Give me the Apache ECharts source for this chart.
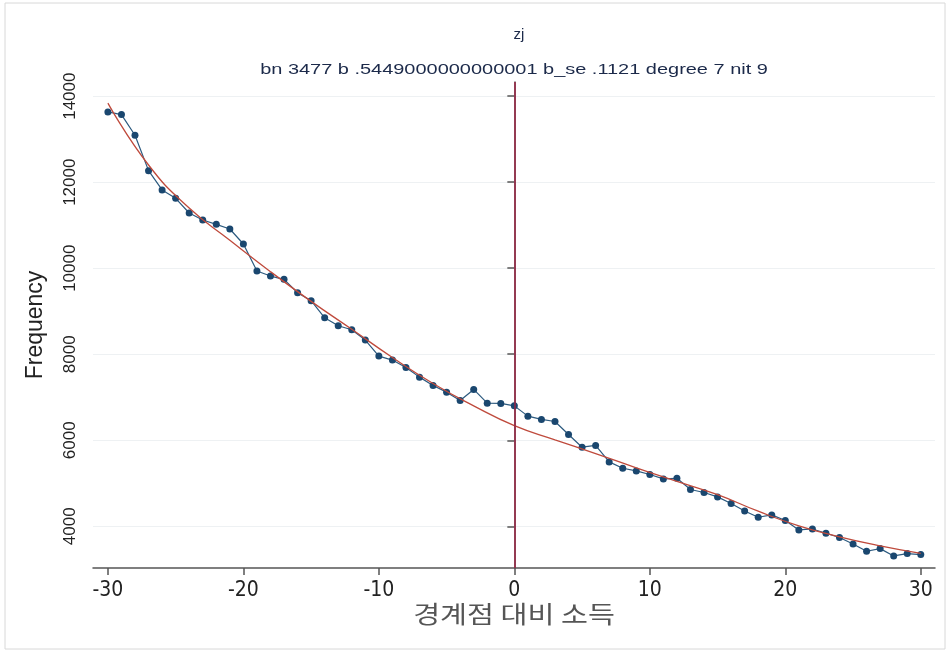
<!DOCTYPE html>
<html>
<head>
<meta charset="utf-8">
<script src="https://cdn.jsdelivr.net/npm/echarts@6/dist/echarts.min.js"></script>
<style>
  html, body { margin: 0; padding: 0; background: #fff; }
  #chart { width: 948px; height: 654px; }
</style>
</head>
<body>
<div id="chart"></div>
<script>
// income relative to the threshold (bins)
var bins = [-30, -29, -28, -27, -26, -25, -24, -23, -22, -21, -20, -19, -18, -17, -16, -15,
    -14, -13, -12, -11, -10, -9, -8, -7, -6, -5, -4, -3, -2, -1, 0, 1, 2, 3, 4, 5, 6, 7, 8,
    9, 10, 11, 12, 13, 14, 15, 16, 17, 18, 19, 20, 21, 22, 23, 24, 25, 26, 27, 28, 29, 30];

// observed frequency per bin
var freq = [13635, 13572, 13092, 12269, 11820, 11626, 11284, 11121, 11021, 10912, 10563,
    9935, 9818, 9741, 9430, 9244, 8848, 8662, 8569, 8329, 7957, 7864, 7694, 7468, 7275,
    7119, 6926, 7182, 6863, 6856, 6800, 6561, 6484, 6437, 6135, 5839, 5879, 5497, 5350,
    5288, 5204, 5102, 5116, 4855, 4785, 4683, 4529, 4357, 4210, 4264, 4133, 3915, 3938,
    3838, 3738, 3589, 3419, 3481, 3310, 3365, 3342];

// counterfactual polynomial fit, read at some bins
var fitBins = [-30, -27, -24, -21, -18, -15, -12, -9, -6, -3, 0, 3, 6, 9, 12, 15, 18, 21, 24, 27, 30];
var fitFreq = [13840, 12400, 11400, 10650, 9920, 9230, 8580, 7925, 7320, 6800, 6340, 6010,
    5690, 5360, 5045, 4735, 4350, 4010, 3755, 3545, 3370];

var xTicks = [-30, -20, -10, 0, 10, 20, 30];
var yTicks = [4000, 6000, 8000, 10000, 12000, 14000];

var chart = echarts.init(document.getElementById('chart'));

var obsData = [];
for (var i = 0; i < bins.length; i++) {
    obsData.push([bins[i], freq[i]]);
}
var fitData = [];
for (var j = 0; j < fitBins.length; j++) {
    fitData.push([fitBins[j], fitFreq[j]]);
}

var option = {
    backgroundColor: '#fff',
    animation: false,
    title: {
        text: 'zj',
        left: 514,
        top: 22,
        textAlign: 'center',
        textStyle: {
            fontFamily: 'Liberation Sans',
            fontSize: 15,
            fontWeight: 'normal',
            color: '#1c2a4a'
        }
    },
    graphic: [
        {
            type: 'rect',
            shape: { x: 5, y: 3, width: 940, height: 646 },
            style: { fill: null, stroke: '#d8d8d8', lineWidth: 1 },
            silent: true
        },
        {
            type: 'text',
            x: 514,
            y: 70,
            scaleX: 1.33,
            style: {
                text: 'bn 3477 b .5449000000000001 b_se .1121 degree 7 nit 9',
                fontFamily: 'Liberation Sans',
                fontSize: 15,
                fill: '#1c2a4a',
                align: 'center',
                verticalAlign: 'middle'
            }
        },
        {
            type: 'text',
            x: 514,
            y: 614,
            scaleX: 1.22,
            style: {
                text: '경계점 대비 소득',
                fontFamily: 'Noto Sans CJK KR',
                fontSize: 24,
                fill: '#555',
                align: 'center',
                verticalAlign: 'middle'
            }
        }
    ],
    grid: {
        left: 93,
        right: 13,
        top: 82,
        bottom: 86
    },
    xAxis: {
        type: 'value',
        min: -31.1,
        max: 31.05,
        axisLine: { show: true, lineStyle: { color: '#555', width: 1.5 } },
        axisTick: {
            show: true,
            customValues: xTicks,
            length: 7,
            lineStyle: { color: '#555', width: 1.5 }
        },
        axisLabel: {
            customValues: xTicks,
            margin: 12,
            fontFamily: 'DejaVu Sans Condensed, Liberation Sans',
            fontSize: 21,
            color: '#222'
        },
        splitLine: { show: false }
    },
    yAxis: {
        type: 'value',
        min: 3030,
        max: 14330,
        name: 'Frequency',
        nameLocation: 'middle',
        nameRotate: 90,
        nameGap: 46,
        nameTextStyle: {
            fontFamily: 'Liberation Sans',
            fontSize: 23,
            color: '#222'
        },
        axisLine: { show: true, lineStyle: { color: '#555', width: 1.5 } },
        axisTick: {
            show: true,
            customValues: yTicks,
            length: 7,
            lineStyle: { color: '#555', width: 1.5 }
        },
        axisLabel: {
            customValues: yTicks,
            rotate: 90,
            margin: 14,
            fontFamily: 'Liberation Sans',
            fontSize: 17,
            color: '#222',
            formatter: function (v) { return String(v); }
        },
        splitLine: {
            show: true,
            lineStyle: { color: '#eef1f3', width: 1 }
        }
    },
    series: [
        {
            name: 'observed',
            type: 'line',
            data: obsData,
            symbol: 'circle',
            symbolSize: 7,
            itemStyle: { color: '#1a476f' },
            lineStyle: { color: '#2c5a7f', width: 1.2 },
            z: 3,
            markLine: {
                silent: true,
                symbol: 'none',
                label: { show: false },
                lineStyle: { color: '#9b2343', width: 1.5, type: 'solid' },
                data: [{ xAxis: 0 }]
            }
        },
        {
            name: 'fit',
            type: 'line',
            data: fitData,
            smooth: 0.5,
            symbol: 'none',
            lineStyle: { color: '#bf4a3c', width: 1.3 },
            z: 4
        }
    ]
};

chart.setOption(option);
</script>
</body>
</html>
